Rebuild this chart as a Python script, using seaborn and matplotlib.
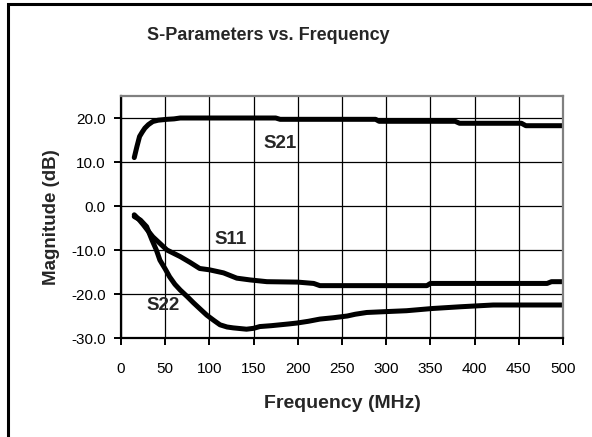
import matplotlib
matplotlib.use("Agg")
import matplotlib.pyplot as plt
import seaborn as sns
import pandas as pd
from matplotlib.patches import Rectangle

# ---- data ----
s21_freq = [15, 18, 21, 24, 27, 31, 36, 42, 52, 60, 67, 175, 180, 288, 292, 378, 383, 453, 458, 500]
s21_db = [11.0, 13.5, 15.8, 16.8, 17.7, 18.5, 19.2, 19.5, 19.7, 19.8, 20.0, 20.0, 19.7, 19.7,
          19.25, 19.25, 18.8, 18.8, 18.25, 18.25]

s11_freq = [15, 20, 25, 30, 36, 44, 52, 60, 67, 78, 89, 100, 116, 131, 146, 165, 200, 218,
            225, 346, 350, 482, 487, 500]
s11_db = [-2.0, -3.0, -4.2, -5.5, -7.0, -8.5, -10.0, -10.8, -11.5, -12.8, -14.2, -14.5, -15.2,
          -16.4, -16.8, -17.2, -17.3, -17.6, -18.1, -18.1, -17.6, -17.6, -17.2, -17.2]

s22_freq = [15, 22, 29, 35, 40, 44, 50, 55, 61, 67, 75, 82, 90, 97, 105, 112, 120, 127, 142,
            150, 157, 170, 180, 190, 199, 212, 225, 240, 256, 265, 278, 300, 323, 352, 384, 421, 500]
s22_db = [-2.4, -3.2, -4.7, -7.7, -10.0, -12.3, -14.3, -16.1, -17.8, -19.1, -20.6, -22.0, -23.5,
          -24.8, -26.0, -27.0, -27.5, -27.7, -28.0, -27.8, -27.4, -27.2, -27.0, -26.8, -26.6,
          -26.2, -25.7, -25.4, -25.0, -24.6, -24.2, -24.0, -23.8, -23.3, -22.9, -22.5, -22.5]

x_ticks = [0, 50, 100, 150, 200, 250, 300, 350, 400, 450, 500]
y_ticks = [-30, -20, -10, 0, 10, 20]
y_tick_labels = ["-30.0", "-20.0", "-10.0", "0.0", "10.0", "20.0"]

title = "S-Parameters vs. Frequency"
x_label = "Frequency (MHz)"
y_label = "Magnitude (dB)"

# ---- plot ----
sns.set_theme(style="white")
plt.rcParams['font.family'] = ['Liberation Sans', 'DejaVu Sans']

W, H = 592, 437
fig = plt.figure(figsize=(W / 100, H / 100), dpi=100)
ax = fig.add_axes([121 / W, 1 - 338 / H, (563 - 121) / W, (338 - 96) / H])

series = {"S21": (s21_freq, s21_db), "S11": (s11_freq, s11_db), "S22": (s22_freq, s22_db)}
for name, (f, v) in series.items():
    df = pd.DataFrame({"freq": f, "db": v})
    sns.lineplot(data=df, x="freq", y="db", ax=ax, color="black", linewidth=3.6,
                 sort=False, estimator=None, solid_capstyle="round", solid_joinstyle="round")

ax.set_xlim(0, 500)
ax.set_ylim(-30, 25)
ax.set_xticks(x_ticks)
ax.set_yticks(y_ticks)
ax.set_yticklabels(y_tick_labels)
ax.grid(True, color="black", linewidth=0.9)
ax.set_axisbelow(True)

for side in ["left", "bottom"]:
    ax.spines[side].set_color("black")
    ax.spines[side].set_linewidth(1.6)
for side in ["top", "right"]:
    ax.spines[side].set_color("#808080")
    ax.spines[side].set_linewidth(1.6)

ax.tick_params(axis="both", which="both", direction="out", length=5, width=1.4,
               color="black", labelsize=11, labelcolor="black",
               bottom=True, left=True)
ax.tick_params(axis="x", pad=12)
ax.tick_params(axis="y", pad=6)

ax.set_xlabel(x_label, fontsize=14, fontweight="bold", labelpad=14)
ax.set_ylabel(y_label, fontsize=13.5, fontweight="bold", labelpad=8)

ax.text(180, 14.2, "S21", fontsize=13.5, fontweight="bold", ha="center", va="center")
ax.text(124, -7.6, "S11", fontsize=13.5, fontweight="bold", ha="center", va="center")
ax.text(48, -22.7, "S22", fontsize=13.5, fontweight="bold", ha="center", va="center")

fig.text(268 / W, 1 - 36 / H, title, fontsize=13, fontweight="bold", ha="center", va="center")

fig.patches.append(Rectangle((7.5 / W, -0.1), 1.2, 1 - 4 / H + 0.1, transform=fig.transFigure,
                             fill=False, edgecolor="black", linewidth=2.2))

fig.savefig("out.png", dpi=100)
